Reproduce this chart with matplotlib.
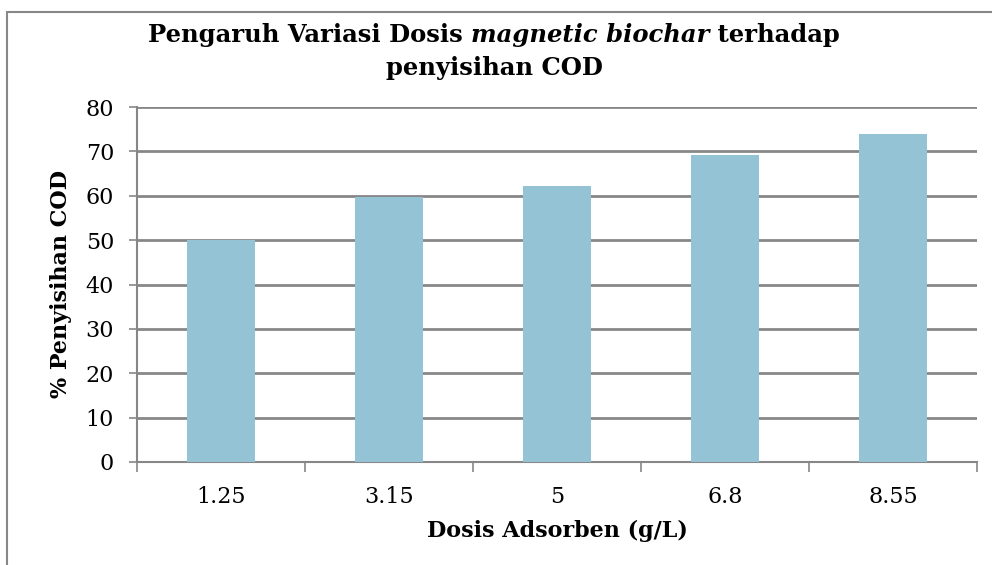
import matplotlib
matplotlib.use("Agg")
import matplotlib.pyplot as plt
from matplotlib.patches import Rectangle

# data
doses = ["1.25", "3.15", "5", "6.8", "8.55"]
removal = [50.1, 59.8, 62.1, 69.2, 73.9]
y_ticks = [0, 10, 20, 30, 40, 50, 60, 70, 80]

plt.rcParams["font.family"] = ["DejaVu Serif"]

bar_color = "#93c3d5"
grid_color = "#878787"
W, H = 992, 565

fig = plt.figure(figsize=(W / 100, H / 100), dpi=100)
ax = fig.add_axes([137 / W, 1 - 462 / H, 840 / W, 355 / H])

x_pos = range(len(doses))
ax.bar(x_pos, removal, width=0.4, color=bar_color, zorder=3)

ax.set_xlim(-0.5, len(doses) - 0.5)
ax.set_ylim(0, 80)
ax.set_yticks(y_ticks)
ax.set_yticklabels([str(t) for t in y_ticks], fontsize=16)
ax.yaxis.grid(True, color=grid_color, linewidth=2, zorder=0)
ax.set_axisbelow(True)

# x ticks sit at the category boundaries, labels in the middle
ax.set_xticks([i - 0.5 for i in range(len(doses) + 1)])
ax.set_xticklabels([])
ax.set_xticks(list(x_pos), minor=True)
ax.set_xticklabels(doses, minor=True, fontsize=16)
ax.tick_params(axis="x", which="minor", length=0, pad=17)
ax.tick_params(axis="x", which="major", length=7.5, width=1.2, color=grid_color)
ax.tick_params(axis="y", length=5.5, width=1.2, color=grid_color, pad=11)

for side in ["top", "right"]:
    ax.spines[side].set_visible(False)
for side in ["left", "bottom"]:
    ax.spines[side].set_color(grid_color)
    ax.spines[side].set_linewidth(1.5)

ax.set_xlabel("Dosis Adsorben (g/L)", fontsize=16, fontweight="bold", labelpad=9)
ax.set_ylabel("% Penyisihan COD", fontsize=16, fontweight="bold", labelpad=10)

# title with an italic part, pieces placed one after another
fig.canvas.draw()
renderer = fig.canvas.get_renderer()
pieces = [("Pengaruh Variasi Dosis ", "normal"),
          ("magnetic biochar", "italic"),
          (" terhadap", "normal")]
size = 18
texts = []
for s, st in pieces:
    t = fig.text(0, 1 - 42 / H, s, fontsize=size, fontweight="bold", style=st,
                 ha="left", va="baseline")
    texts.append(t)
total = sum(t.get_window_extent(renderer).width for t in texts)
size = size * 692 / total
for t in texts:
    t.set_fontsize(size)
widths = [t.get_window_extent(renderer).width for t in texts]
x0 = (494 - sum(widths) / 2) / W
for t, w in zip(texts, widths):
    t.set_x(x0)
    x0 += w / W
fig.text(494 / W, 1 - 75 / H, "penyisihan COD", fontsize=size, fontweight="bold",
         ha="center", va="baseline")

# outer chart frame (only top and left edges visible)
fig.add_artist(Rectangle((7 / W, -0.1), 1.2, 1 - 12 / H + 0.1,
                         transform=fig.transFigure, fill=False,
                         edgecolor=grid_color, linewidth=1.5))

fig.savefig("out.png", dpi=100)
